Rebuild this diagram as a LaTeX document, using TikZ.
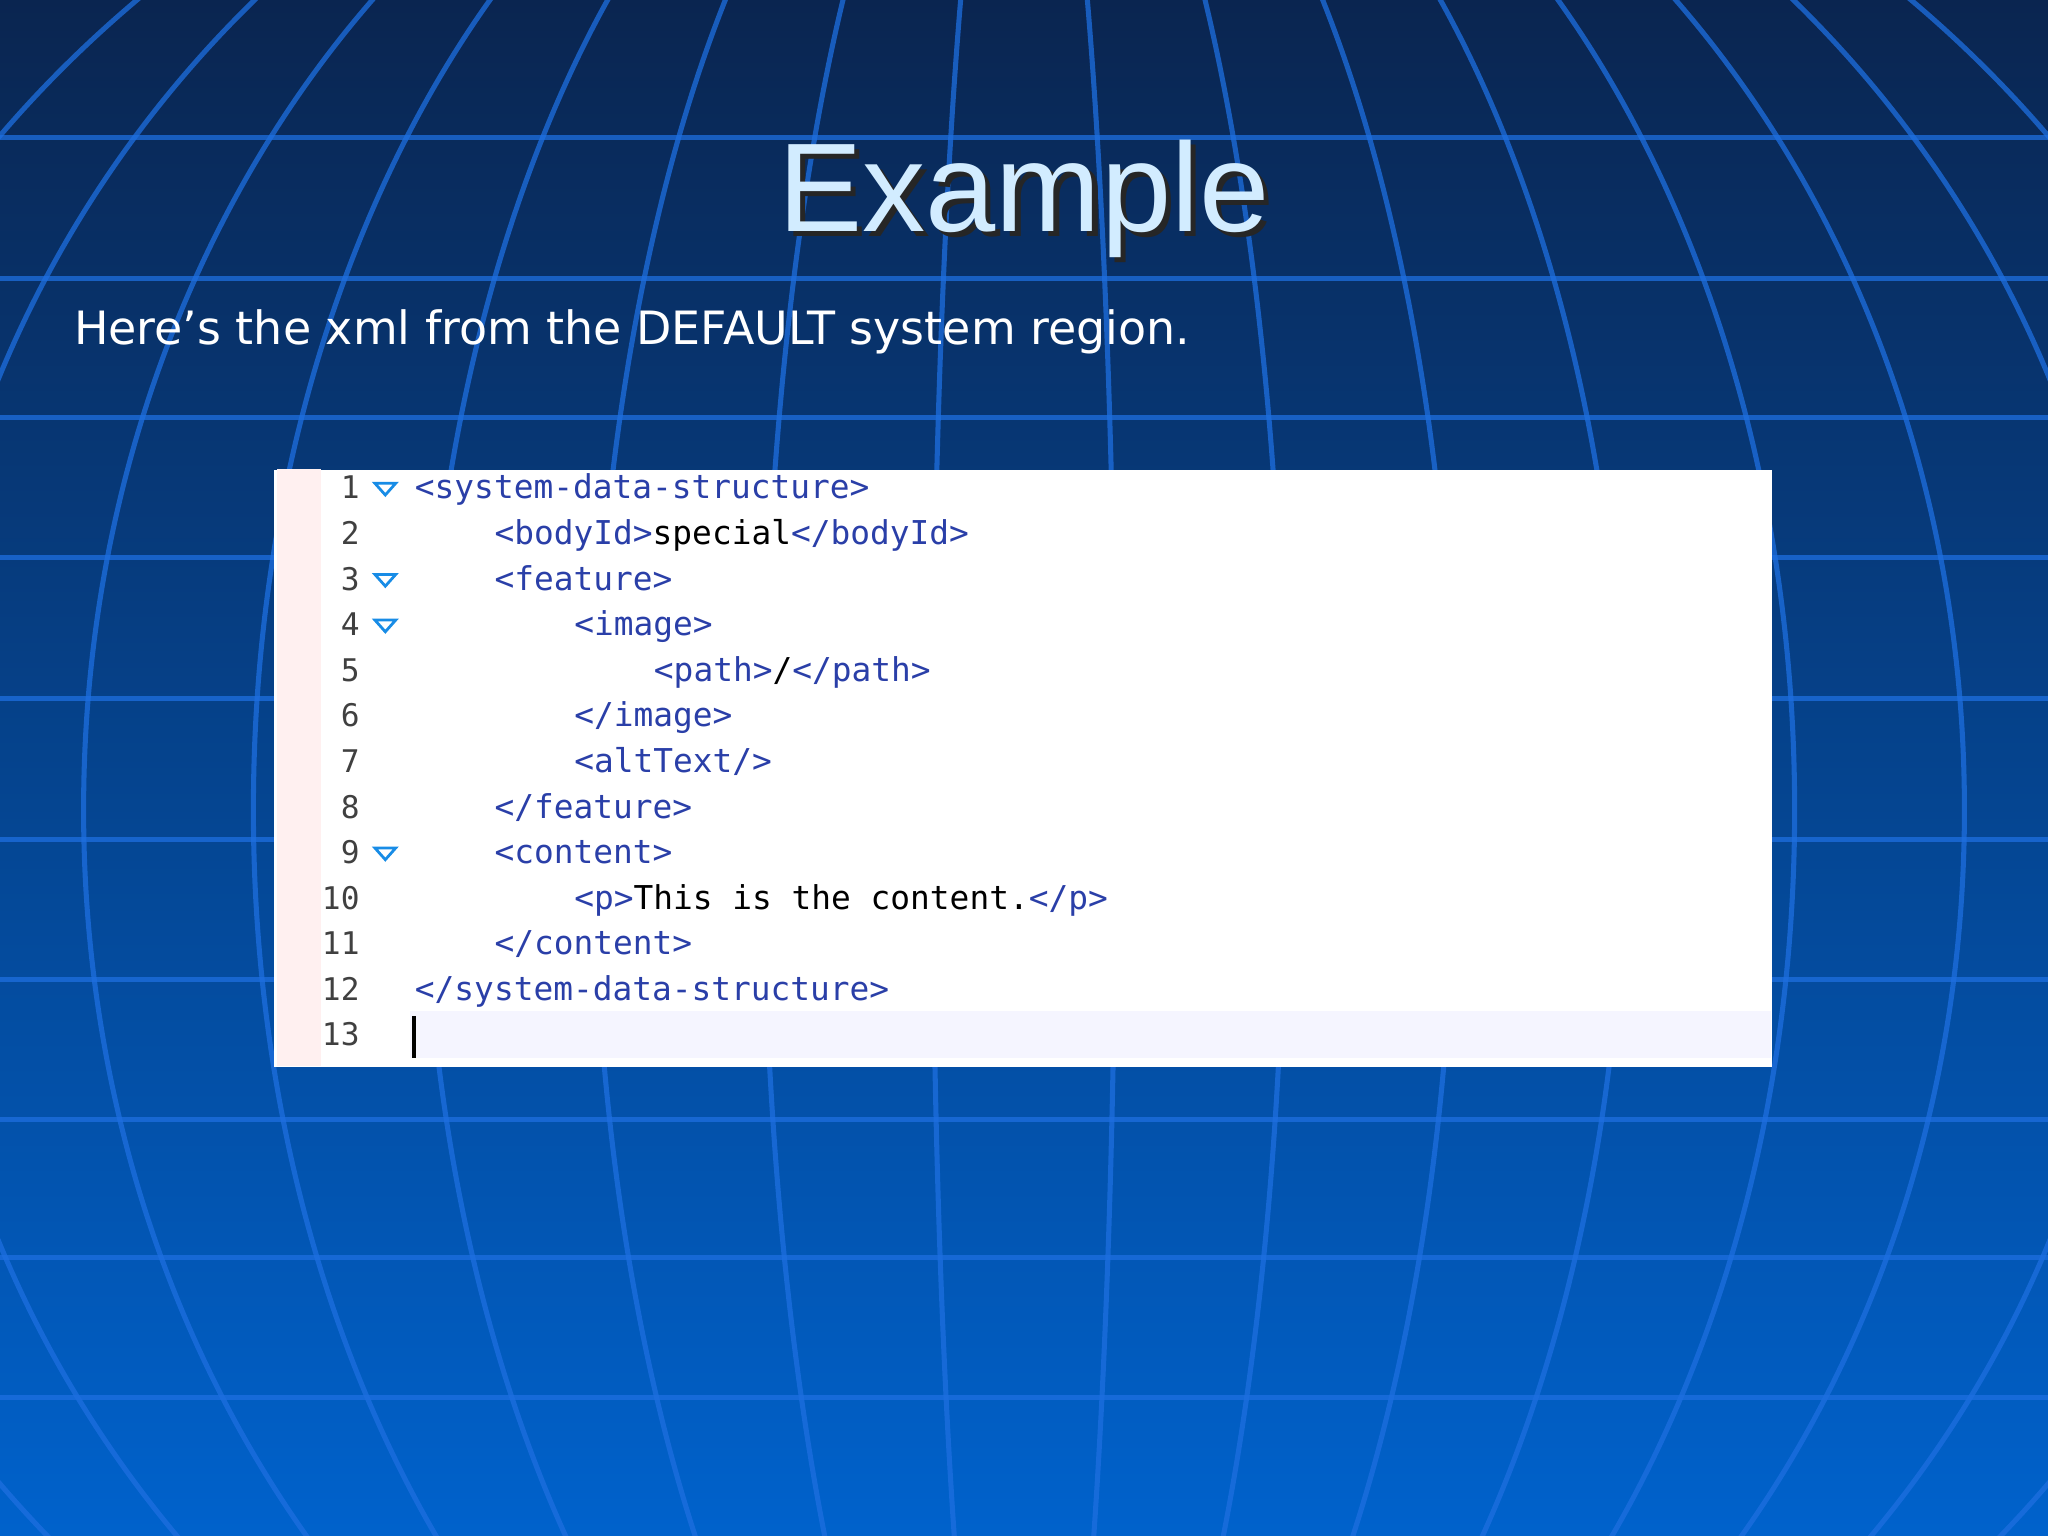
\documentclass[tikz,border=0pt]{standalone}
\usepackage{fontspec}
\setmainfont{Liberation Sans}
\newfontfamily\verd{DejaVu Sans}
\newfontfamily\codef{DejaVu Sans Mono}
\definecolor{bgtop}{HTML}{0A2550}
\definecolor{bgbot}{HTML}{0062CC}
\definecolor{gridc}{HTML}{1E6FE0}
\definecolor{tagc}{HTML}{2A3FA8}
\definecolor{titlec}{HTML}{D2ECFF}
\tikzset{
  gl/.style={draw=gridc, line width=1.1pt, draw opacity=0.75},
  codeline/.style={anchor=base west, inner sep=0pt, font=\codef\fontsize{7.15}{9}\selectfont},
  lnum/.style={anchor=base east, inner sep=0pt, font=\codef\fontsize{6.8}{9}\selectfont, text=black!75},
  fold/.style={draw=gridc!80!cyan, line width=0.6pt, fill=white}
}
\newcommand{\tg}[1]{\textcolor{tagc}{#1}}
\begin{document}
\begin{tikzpicture}[x=1cm,y=-1cm]
\useasboundingbox (0,0) rectangle (15.68,11.76);
\shade[top color=bgtop, bottom color=bgbot] (0,0) rectangle (15.68,11.76);
\begin{scope}
\clip (0,0) rectangle (15.68,11.76);
\foreach \y in {1.05,2.13,3.20,4.27,5.35,6.43,7.50,8.57,9.63,10.70}
  \draw[gl] (0,\y) -- (15.68,\y);
\foreach \r in {0.7,2.0,3.3,4.6,5.9,7.2,8.5,9.8}
  \draw[gl] (7.84,6.2) ellipse [x radius=\r, y radius=8.6];
\end{scope}
\node[font=\fontsize{27.5}{30}\selectfont, text=black!85] at (7.88,1.56) {Example};
\node (title)[font=\fontsize{27.5}{30}\selectfont, text=titlec] at (7.84,1.52) {Example};
\node (sub)[anchor=base west, inner sep=0, font=\verd\fontsize{10}{12}\selectfont, text=white] at (0.56,2.64) {Here’s the xml from the DEFAULT system region.};
\node (box)[draw=none, fill=white, minimum width=11.47cm, minimum height=4.57cm, anchor=north west, inner sep=0] at (2.09,3.59) {};
\fill[red!6] (2.12,3.59) rectangle (2.46,8.16);
\fill[blue!4] (3.14,7.74) rectangle (13.56,8.10);
\draw[black, line width=0.9pt] (3.17,7.78) -- (3.17,8.10);
\foreach \i/\t/\ind in {
 1/{\tg{<system-data-structure>}}/0,
 2/{\tg{<bodyId>}special\tg{</bodyId>}}/1,
 3/{\tg{<feature>}}/1,
 4/{\tg{<image>}}/2,
 5/{\tg{<path>}/\tg{</path>}}/3,
 6/{\tg{</image>}}/2,
 7/{\tg{<altText/>}}/2,
 8/{\tg{</feature>}}/1,
 9/{\tg{<content>}}/1,
 10/{\tg{<p>}This is the content.\tg{</p>}}/2,
 11/{\tg{</content>}}/1,
 12/{\tg{</system-data-structure>}}/0}
{
  \node[lnum] (n\i) at (2.76,{3.82+0.349*(\i-1)}) {\i};
  \node[codeline] (c\i) at ({3.17+0.61*\ind},{3.82+0.349*(\i-1)}) {\t};
}
\node[lnum] (n13) at (2.76,{3.82+0.349*12}) {13};
\foreach \i in {1,3,4,9}
  \draw[fold] ({2.87},{3.70+0.349*(\i-1)}) -- ++(0.16,0) -- ++(-0.08,0.09) -- cycle;
\end{tikzpicture}
\end{document}
